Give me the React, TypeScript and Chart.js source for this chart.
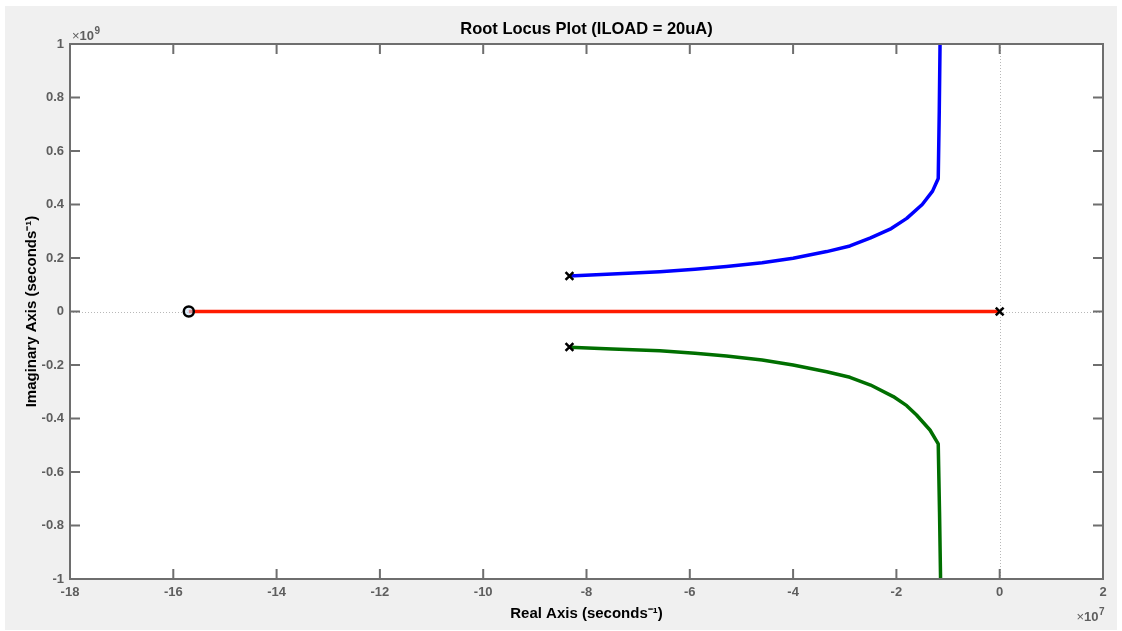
import React, { useEffect, useRef } from "react";
import { Chart, registerables } from "chart.js";

Chart.register(...registerables);

// Real parts in units of 1e7 s^-1, imaginary parts in units of 1e9 s^-1
const xTickValues = [-18, -16, -14, -12, -10, -8, -6, -4, -2, 0, 2];
const yTickValues = [-1, -0.8, -0.6, -0.4, -0.2, 0, 0.2, 0.4, 0.6, 0.8, 1];

const zeroRe = [-15.7];
const zeroIm = [0];
const poleRe = [-8.33, -8.33, 0];
const poleIm = [0.133, -0.133, 0];

const redRe = [-15.7, 0];
const redIm = [0, 0];

const blueRe = [-8.33, -7.5, -6.58, -5.9, -5.29, -4.6, -4.0, -3.35, -2.9, -2.5, -2.1, -1.8, -1.5, -1.3, -1.19, -1.17, -1.155];
const blueIm = [0.133, 0.14, 0.149, 0.158, 0.168, 0.182, 0.199, 0.224, 0.245, 0.275, 0.31, 0.348, 0.4, 0.45, 0.497, 0.75, 1.0];

const greenRe = [-8.33, -7.5, -6.58, -5.9, -5.29, -4.6, -4.0, -3.35, -2.9, -2.5, -2.06, -1.8, -1.61, -1.35, -1.19, -1.165, -1.145];
const greenIm = [-0.134, -0.14, -0.147, -0.156, -0.166, -0.181, -0.2, -0.225, -0.246, -0.275, -0.318, -0.352, -0.387, -0.443, -0.495, -0.75, -1.0];

const TITLE = "Root Locus Plot (ILOAD = 20uA)";

const FONT = "'Liberation Sans', Arial, Helvetica, sans-serif";
const AXIS_COLOR = "#6e6e6e";
const LABEL_COLOR = "#5e5e5e";

const pts = (xs: number[], ys: number[]) => xs.map((x, i) => ({ x, y: ys[i] }));

const fmt = (v: number) => {
  const r = Math.round(v * 10) / 10;
  return Object.is(r, -0) ? "0" : String(r);
};

const framePlugin = {
  id: "frame",
  beforeDraw(chart: any) {
    const { ctx, width, height, chartArea: a } = chart;
    ctx.save();
    ctx.fillStyle = "#ffffff";
    ctx.fillRect(0, 0, width, height);
    ctx.fillStyle = "#f0f0f0";
    ctx.fillRect(5, 6, 1112, 624);
    ctx.fillStyle = "#ffffff";
    ctx.fillRect(a.left, a.top, a.right - a.left, a.bottom - a.top);
    ctx.restore();
  },
  beforeDatasetsDraw(chart: any) {
    const { ctx, chartArea: a, scales } = chart;
    const x0 = scales.x.getPixelForValue(0);
    const y0 = scales.y.getPixelForValue(0);
    ctx.save();
    ctx.strokeStyle = "#b8b8b8";
    ctx.lineWidth = 1;
    ctx.setLineDash([1, 2]);
    ctx.beginPath();
    ctx.moveTo(Math.round(x0) + 0.5, a.top);
    ctx.lineTo(Math.round(x0) + 0.5, a.bottom);
    ctx.moveTo(a.left, Math.round(y0) + 0.5);
    ctx.lineTo(a.right, Math.round(y0) + 0.5);
    ctx.stroke();
    ctx.restore();
  },
  afterDatasetsDraw(chart: any) {
    const { ctx, chartArea: a, scales } = chart;
    const tl = 10;
    ctx.save();
    ctx.strokeStyle = AXIS_COLOR;
    ctx.lineWidth = 2;
    ctx.setLineDash([]);
    ctx.beginPath();
    xTickValues.forEach((v) => {
      const px = scales.x.getPixelForValue(v);
      ctx.moveTo(px, a.bottom);
      ctx.lineTo(px, a.bottom - tl);
      ctx.moveTo(px, a.top);
      ctx.lineTo(px, a.top + tl);
    });
    yTickValues.forEach((v) => {
      const py = scales.y.getPixelForValue(v);
      ctx.moveTo(a.left, py);
      ctx.lineTo(a.left + tl, py);
      ctx.moveTo(a.right, py);
      ctx.lineTo(a.right - tl, py);
    });
    ctx.stroke();
    ctx.strokeRect(a.left, a.top, a.right - a.left, a.bottom - a.top);
    ctx.restore();
  },
  afterDraw(chart: any) {
    const { ctx, chartArea: a } = chart;
    ctx.save();
    // title centred over the axes box
    ctx.fillStyle = "#000000";
    ctx.font = `bold 16.5px ${FONT}`;
    ctx.textAlign = "center";
    ctx.textBaseline = "middle";
    ctx.fillText(TITLE, (a.left + a.right) / 2, 29);

    ctx.fillStyle = LABEL_COLOR;
    ctx.textBaseline = "alphabetic";
    ctx.textAlign = "left";
    // top-left exponent
    ctx.font = `13px ${FONT}`;
    let x = a.left + 2;
    const yTop = a.top - 4;
    ctx.fillText("×", x, yTop);
    x += ctx.measureText("×").width;
    ctx.font = `bold 13px ${FONT}`;
    ctx.fillText("10", x, yTop);
    x += ctx.measureText("10").width;
    ctx.font = `bold 10px ${FONT}`;
    ctx.fillText("9", x + 0.5, yTop - 6);
    // bottom-right exponent
    ctx.font = `bold 10px ${FONT}`;
    const supW = ctx.measureText("7").width;
    ctx.font = `bold 13px ${FONT}`;
    const tenW = ctx.measureText("10").width;
    ctx.font = `13px ${FONT}`;
    const xW = ctx.measureText("×").width;
    const yBot = 621;
    let bx = a.right - supW - tenW - xW + 1;
    ctx.fillText("×", bx, yBot);
    bx += xW;
    ctx.font = `bold 13px ${FONT}`;
    ctx.fillText("10", bx, yBot);
    bx += tenW;
    ctx.font = `bold 10px ${FONT}`;
    ctx.fillText("7", bx + 0.5, yBot - 6);
    ctx.restore();
  },
};

export default function App() {
  const ref = useRef<HTMLCanvasElement | null>(null);

  useEffect(() => {
    if (!ref.current) return;
    const chart = new Chart(ref.current, {
      type: "scatter",
      data: {
        datasets: [
          {
            label: "zero",
            data: pts(zeroRe, zeroIm),
            showLine: false,
            pointStyle: "circle",
            pointRadius: 5,
            pointBorderWidth: 2.5,
            pointBorderColor: "#000000",
            pointBackgroundColor: "rgba(200,225,245,0.6)",
          },
          {
            label: "poles",
            data: pts(poleRe, poleIm),
            showLine: false,
            pointStyle: "crossRot",
            pointRadius: 5.5,
            pointBorderWidth: 2.5,
            pointBorderColor: "#000000",
            pointBackgroundColor: "#000000",
          },
          {
            label: "branch 3",
            data: pts(greenRe, greenIm),
            showLine: true,
            borderColor: "#006f00",
            borderWidth: 3.5,
            pointRadius: 0,
            borderJoinStyle: "round",
            tension: 0,
          },
          {
            label: "branch 2",
            data: pts(blueRe, blueIm),
            showLine: true,
            borderColor: "#0000ff",
            borderWidth: 3.5,
            pointRadius: 0,
            borderJoinStyle: "round",
            tension: 0,
          },
          {
            label: "branch 1",
            data: pts(redRe, redIm),
            showLine: true,
            borderColor: "#ff1a00",
            borderWidth: 3.5,
            pointRadius: 0,
            tension: 0,
          },
        ],
      },
      options: {
        animation: false,
        responsive: false,
        devicePixelRatio: 1,
        layout: { padding: { left: 0, right: 19, top: 44, bottom: 0 } },
        plugins: {
          legend: { display: false },
          tooltip: { enabled: false },
          title: { display: false },
        },
        scales: {
          x: {
            type: "linear",
            position: "bottom",
            min: -18,
            max: 2,
            grid: { display: false, drawTicks: false },
            border: { display: false },
            afterBuildTicks: (s: any) => {
              s.ticks = xTickValues.map((v) => ({ value: v }));
            },
            afterFit: (s: any) => {
              s.height = 52;
            },
            ticks: {
              padding: 6,
              color: LABEL_COLOR,
              font: { family: FONT, size: 13, weight: "bold" },
              maxRotation: 0,
              autoSkip: false,
              callback: (v: any) => fmt(Number(v)),
            },
            title: {
              display: true,
              text: "Real Axis (seconds⁻¹)",
              color: "#000000",
              font: { family: FONT, size: 15, weight: "bold", lineHeight: "18px" },
              padding: { top: 0, bottom: 8 },
            },
          },
          y: {
            type: "linear",
            position: "left",
            min: -1,
            max: 1,
            grid: { display: false, drawTicks: false },
            border: { display: false },
            afterBuildTicks: (s: any) => {
              s.ticks = yTickValues.map((v) => ({ value: v }));
            },
            afterFit: (s: any) => {
              s.width = 70;
            },
            ticks: {
              padding: 6,
              color: LABEL_COLOR,
              font: { family: FONT, size: 13, weight: "bold" },
              autoSkip: false,
              callback: (v: any) => fmt(Number(v)),
            },
            title: {
              display: true,
              text: "Imaginary Axis (seconds⁻¹)",
              color: "#000000",
              font: { family: FONT, size: 15, weight: "bold", lineHeight: "18px" },
              padding: { top: 23, bottom: 0 },
            },
          },
        },
      },
      plugins: [framePlugin],
    } as any);
    return () => chart.destroy();
  }, []);

  return (
    <div style={{ position: "fixed", left: 0, top: 0, width: 1122, height: 631 }}>
      <canvas ref={ref} width={1122} height={631} style={{ display: "block" }} />
    </div>
  );
}
